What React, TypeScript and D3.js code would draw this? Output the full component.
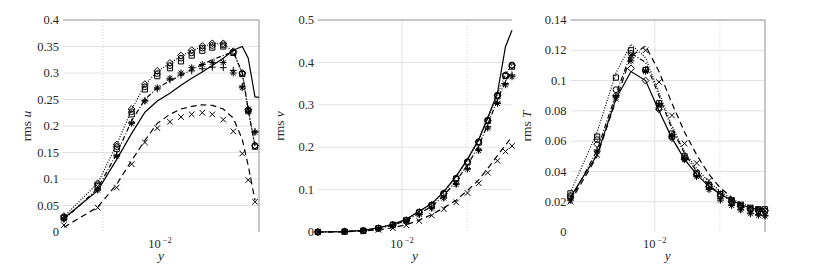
import { useRef, useEffect } from 'react';
import * as d3 from 'd3';

// wall-normal positions (log axis)
const posU = [0.00311, 0.00469, 0.00591, 0.00709, 0.00833, 0.00968, 0.01129, 0.01291, 0.01471, 0.01673, 0.01889, 0.02159, 0.02438, 0.0272, 0.02925, 0.03175, 0.03334];
const posVT = [0.00408, 0.00542, 0.00662, 0.00777, 0.00907, 0.01046, 0.01201, 0.01373, 0.01561, 0.01781, 0.0201, 0.02265, 0.02495, 0.02767, 0.03013, 0.0323];

// rms u
const uSolid = [0.026, 0.078, 0.137, 0.186, 0.226, 0.247, 0.262, 0.277, 0.29, 0.302, 0.314, 0.328, 0.343, 0.35, 0.328, 0.255, 0.254];
const uDashed = [0.009, 0.047, 0.09, 0.135, 0.173, 0.205, 0.222, 0.232, 0.237, 0.24, 0.239, 0.232, 0.215, 0.175, 0.125, 0.06];
const uDotted = [0.029, 0.092, 0.165, 0.231, 0.278, 0.303, 0.318, 0.332, 0.342, 0.35, 0.355, 0.355, 0.34, 0.3, 0.231, 0.162];
const uDashDot = [0.023, 0.082, 0.148, 0.21, 0.25, 0.272, 0.285, 0.296, 0.306, 0.316, 0.325, 0.333, 0.34, 0.3, 0.23, 0.163];
const uCircle = [0.028, 0.089, 0.161, 0.227, 0.274, 0.299, 0.314, 0.328, 0.338, 0.347, 0.352, 0.353, 0.339, 0.299, 0.23, 0.163];
const uSquare = [0.026, 0.086, 0.157, 0.222, 0.269, 0.294, 0.309, 0.322, 0.333, 0.342, 0.348, 0.35, 0.338, 0.298, 0.228, 0.161];
const uDiamond = [0.03, 0.092, 0.165, 0.232, 0.279, 0.304, 0.319, 0.333, 0.343, 0.351, 0.356, 0.356, 0.341, 0.3, 0.231, 0.163];
const uStar = [0.025, 0.079, 0.143, 0.205, 0.247, 0.272, 0.29, 0.3, 0.31, 0.316, 0.32, 0.32, 0.3, 0.272, 0.232, 0.188];
const uPlus = [0.024, 0.08, 0.145, 0.207, 0.248, 0.27, 0.287, 0.296, 0.304, 0.308, 0.311, 0.31, 0.305, 0.275, 0.228, 0.19];
const uCross = [0.013, 0.046, 0.084, 0.128, 0.169, 0.196, 0.208, 0.217, 0.222, 0.225, 0.222, 0.212, 0.19, 0.148, 0.098, 0.057];

// rms v
const vSolid = [0, 0.001, 0.004, 0.01, 0.018, 0.03, 0.049, 0.067, 0.095, 0.132, 0.172, 0.218, 0.27, 0.328, 0.437, 0.476];
const vDashed = [0, 0.0005, 0.002, 0.005, 0.01, 0.017, 0.028, 0.041, 0.057, 0.075, 0.098, 0.123, 0.15, 0.18, 0.205, 0.225];
const vDotted = [0, 0.001, 0.004, 0.01, 0.018, 0.03, 0.049, 0.066, 0.093, 0.13, 0.17, 0.216, 0.267, 0.325, 0.372, 0.396];
const vDashDot = [0, 0.001, 0.003, 0.008, 0.016, 0.027, 0.044, 0.06, 0.086, 0.12, 0.158, 0.203, 0.254, 0.312, 0.356, 0.378];
const vCircle = [0, 0.001, 0.003, 0.009, 0.017, 0.028, 0.047, 0.064, 0.091, 0.127, 0.166, 0.213, 0.264, 0.323, 0.37, 0.394];
const vSquare = [0, 0.001, 0.003, 0.009, 0.017, 0.028, 0.046, 0.063, 0.09, 0.125, 0.164, 0.211, 0.262, 0.32, 0.368, 0.39];
const vDiamond = [0, 0.001, 0.003, 0.009, 0.017, 0.028, 0.047, 0.064, 0.091, 0.126, 0.165, 0.212, 0.263, 0.322, 0.369, 0.392];
const vStar = [0, 0.001, 0.003, 0.008, 0.015, 0.025, 0.041, 0.056, 0.08, 0.112, 0.148, 0.192, 0.245, 0.303, 0.347, 0.366];
const vPlus = [0, 0.001, 0.003, 0.008, 0.015, 0.026, 0.042, 0.057, 0.082, 0.114, 0.15, 0.195, 0.248, 0.306, 0.35, 0.37];
const vCross = [0, 0.0005, 0.002, 0.005, 0.009, 0.016, 0.026, 0.039, 0.054, 0.07, 0.092, 0.115, 0.14, 0.168, 0.19, 0.203];

// rms T
const tSolid = [0.023, 0.051, 0.088, 0.106, 0.1, 0.08, 0.062, 0.048, 0.038, 0.03, 0.025, 0.021, 0.018, 0.016, 0.015, 0.0145];
const tDashed = [0.02, 0.05, 0.087, 0.116, 0.123, 0.106, 0.085, 0.066, 0.051, 0.038, 0.029, 0.023, 0.019, 0.017, 0.016, 0.015];
const tDotted = [0.026, 0.066, 0.105, 0.124, 0.115, 0.092, 0.07, 0.053, 0.042, 0.033, 0.027, 0.022, 0.019, 0.017, 0.016, 0.015];
const tDashDot = [0.021, 0.054, 0.091, 0.118, 0.112, 0.09, 0.068, 0.052, 0.04, 0.031, 0.025, 0.02, 0.017, 0.015, 0.014, 0.013];
const tCircle = [0.024, 0.061, 0.094, 0.118, 0.107, 0.082, 0.063, 0.049, 0.038, 0.03, 0.024, 0.02, 0.017, 0.015, 0.014, 0.014];
const tSquare = [0.0255, 0.063, 0.102, 0.12, 0.107, 0.085, 0.065, 0.05, 0.039, 0.031, 0.025, 0.021, 0.018, 0.016, 0.015, 0.015];
const tDiamond = [0.023, 0.058, 0.09, 0.108, 0.1, 0.081, 0.062, 0.048, 0.038, 0.03, 0.024, 0.02, 0.017, 0.015, 0.014, 0.014];
const tStar = [0.021, 0.053, 0.089, 0.113, 0.106, 0.084, 0.063, 0.048, 0.0365, 0.028, 0.021, 0.0175, 0.0145, 0.012, 0.011, 0.0105];
const tPlus = [0.022, 0.054, 0.09, 0.115, 0.107, 0.085, 0.064, 0.049, 0.037, 0.029, 0.022, 0.018, 0.015, 0.0125, 0.0115, 0.011];
const tCross = [0.02, 0.051, 0.088, 0.117, 0.12, 0.099, 0.077, 0.0585, 0.0455, 0.034, 0.026, 0.021, 0.018, 0.016, 0.015, 0.014];

const ticksU = [0, 0.05, 0.1, 0.15, 0.2, 0.25, 0.3, 0.35, 0.4];
const ticksV = [0, 0.1, 0.2, 0.3, 0.4, 0.5];
const ticksT = [0, 0.02, 0.04, 0.06, 0.08, 0.1, 0.12, 0.14];

const FONT = "'Liberation Serif', 'DejaVu Serif', serif";
const TOP = 20;
const BOTTOM = 232;

const dashes = { solid: null, dashed: '6,4', dotted: '1,1.6', dashdot: '5,2,1,2' };

const markerPath = {
    circle: (s) => `M${s},0A${s},${s} 0 1,1 ${-s},0A${s},${s} 0 1,1 ${s},0Z`,
    square: (s) => `M${-s},${-s}H${s}V${s}H${-s}Z`,
    diamond: (s) => `M0,${-s}L${s},0L0,${s}L${-s},0Z`,
    plus: (s) => `M${-s},0H${s}M0,${-s}V${s}`,
    cross: (s) => `M${-s},${-s}L${s},${s}M${-s},${s}L${s},${-s}`,
    star: (s) => {
        const k = s * 0.72;
        return `M${-s},0H${s}M0,${-s}V${s}M${-k},${-k}L${k},${k}M${-k},${k}L${k},${-k}`;
    },
};
const markerSize = { circle: 2.9, square: 2.6, diamond: 3.4, plus: 3.4, cross: 2.8, star: 3.4 };

const panels = [
    {
        name: 'u', left: 63, right: 259, domain: [0.003076, 0.03334], yMax: 0.4, ticks: ticksU, labelX: 31,
        pos: posU, rightBorder: true, majorX: [], minorX: [0.005],
        lines: [['solid', uSolid], ['dashed', uDashed], ['dotted', uDotted], ['dashdot', uDashDot]],
        marks: [['cross', uCross], ['plus', uPlus], ['star', uStar], ['square', uSquare], ['diamond', uDiamond], ['circle', uCircle]],
    },
    {
        name: 'v', left: 318, right: 512, domain: [0.004083, 0.0323], yMax: 0.5, ticks: ticksV, labelX: 284,
        pos: posVT, rightBorder: false, majorX: [0.01], minorX: [0.02],
        lines: [['solid', vSolid], ['dashed', vDashed], ['dotted', vDotted], ['dashdot', vDashDot]],
        marks: [['cross', vCross], ['plus', vPlus], ['star', vStar], ['square', vSquare], ['diamond', vDiamond], ['circle', vCircle]],
    },
    {
        name: 'T', left: 570.5, right: 765, domain: [0.004083, 0.0323], yMax: 0.14, ticks: ticksT, labelX: 531,
        pos: posVT, rightBorder: true, majorX: [0.01], minorX: [0.02],
        lines: [['solid', tSolid], ['dashed', tDashed], ['dotted', tDotted], ['dashdot', tDashDot]],
        marks: [['cross', tCross], ['plus', tPlus], ['star', tStar], ['square', tSquare], ['diamond', tDiamond], ['circle', tCircle]],
    },
];

function RmsProfiles() {
    const svgRef = useRef(null);

    useEffect(() => {
        const svg = d3.select(svgRef.current);
        svg.selectAll('*').remove();

        panels.forEach((p) => {
            const x = d3.scaleLog().domain(p.domain).range([p.left, p.right]);
            const y = d3.scaleLinear().domain([0, p.yMax]).range([BOTTOM, TOP]);
            const g = svg.append('g');

            // grid
            g.selectAll('line.hgrid').data(p.ticks.slice(1, -1)).enter().append('line')
                .attr('x1', p.left).attr('x2', p.right)
                .attr('y1', (d) => y(d)).attr('y2', (d) => y(d))
                .attr('stroke', '#e2e2e2').attr('stroke-width', 1);
            g.selectAll('line.vmajor').data(p.majorX).enter().append('line')
                .attr('x1', (d) => x(d)).attr('x2', (d) => x(d))
                .attr('y1', TOP).attr('y2', BOTTOM)
                .attr('stroke', '#e2e2e2').attr('stroke-width', 1);
            g.selectAll('line.vminor').data(p.minorX).enter().append('line')
                .attr('x1', (d) => x(d)).attr('x2', (d) => x(d))
                .attr('y1', TOP).attr('y2', BOTTOM)
                .attr('stroke', '#c8c8c8').attr('stroke-width', 0.8)
                .attr('stroke-dasharray', '1,2');

            // box (top / right only)
            g.append('line').attr('x1', p.left).attr('x2', p.right)
                .attr('y1', TOP).attr('y2', TOP)
                .attr('stroke', '#8e8e8e').attr('stroke-width', 1);
            if (p.rightBorder) {
                g.append('line').attr('x1', p.right).attr('x2', p.right)
                    .attr('y1', TOP).attr('y2', BOTTOM)
                    .attr('stroke', '#8e8e8e').attr('stroke-width', 1);
            }

            // y tick labels
            g.selectAll('text.ytick').data(p.ticks).enter().append('text')
                .attr('x', p.left - 4).attr('y', (d) => y(d)).attr('dy', '0.33em')
                .attr('text-anchor', 'end')
                .attr('font-family', FONT).attr('font-size', 12.5).attr('fill', '#262626')
                .text((d) => String(d));

            // x tick label 10^-2
            const xt = g.append('text')
                .attr('x', x(0.01)).attr('y', 248)
                .attr('text-anchor', 'middle')
                .attr('font-family', FONT).attr('font-size', 12.5).attr('fill', '#262626');
            xt.append('tspan').text('10');
            xt.append('tspan').attr('dx', 2).attr('dy', -5).attr('font-size', 8.5).text('−2');

            // axis labels
            g.append('text')
                .attr('x', (p.left + p.right) / 2).attr('y', 260)
                .attr('text-anchor', 'middle')
                .attr('font-family', FONT).attr('font-size', 13.5).attr('font-style', 'italic')
                .attr('fill', '#262626')
                .text('y');
            const yl = g.append('text')
                .attr('transform', `translate(${p.labelX},${(TOP + BOTTOM) / 2}) rotate(-90)`)
                .attr('text-anchor', 'middle')
                .attr('font-family', FONT).attr('font-size', 13.5).attr('fill', '#262626');
            yl.append('tspan').text('rms ');
            yl.append('tspan').attr('font-style', 'italic').text(p.name);

            // lines
            p.lines.forEach(([style, vals]) => {
                const line = d3.line()
                    .x((_, i) => x(p.pos[i]))
                    .y((d) => y(d));
                g.append('path')
                    .attr('d', line(vals))
                    .attr('fill', 'none')
                    .attr('stroke', '#000')
                    .attr('stroke-width', 1.2)
                    .attr('stroke-dasharray', dashes[style]);
            });

            // markers
            p.marks.forEach(([shape, vals]) => {
                const s = markerSize[shape];
                g.selectAll(null).data(vals).enter().append('path')
                    .attr('transform', (d, i) => `translate(${x(p.pos[i])},${y(d)})`)
                    .attr('d', markerPath[shape](s))
                    .attr('fill', 'none')
                    .attr('stroke', '#000')
                    .attr('stroke-width', 1);
            });
        });
    }, []);

    return <svg ref={svgRef} width={830} height={272} style={{ display: 'block', background: '#fff' }}></svg>;
}

export default function App() {
    return (
        <div style={{ margin: -8 }}>
            <RmsProfiles />
        </div>
    );
}
